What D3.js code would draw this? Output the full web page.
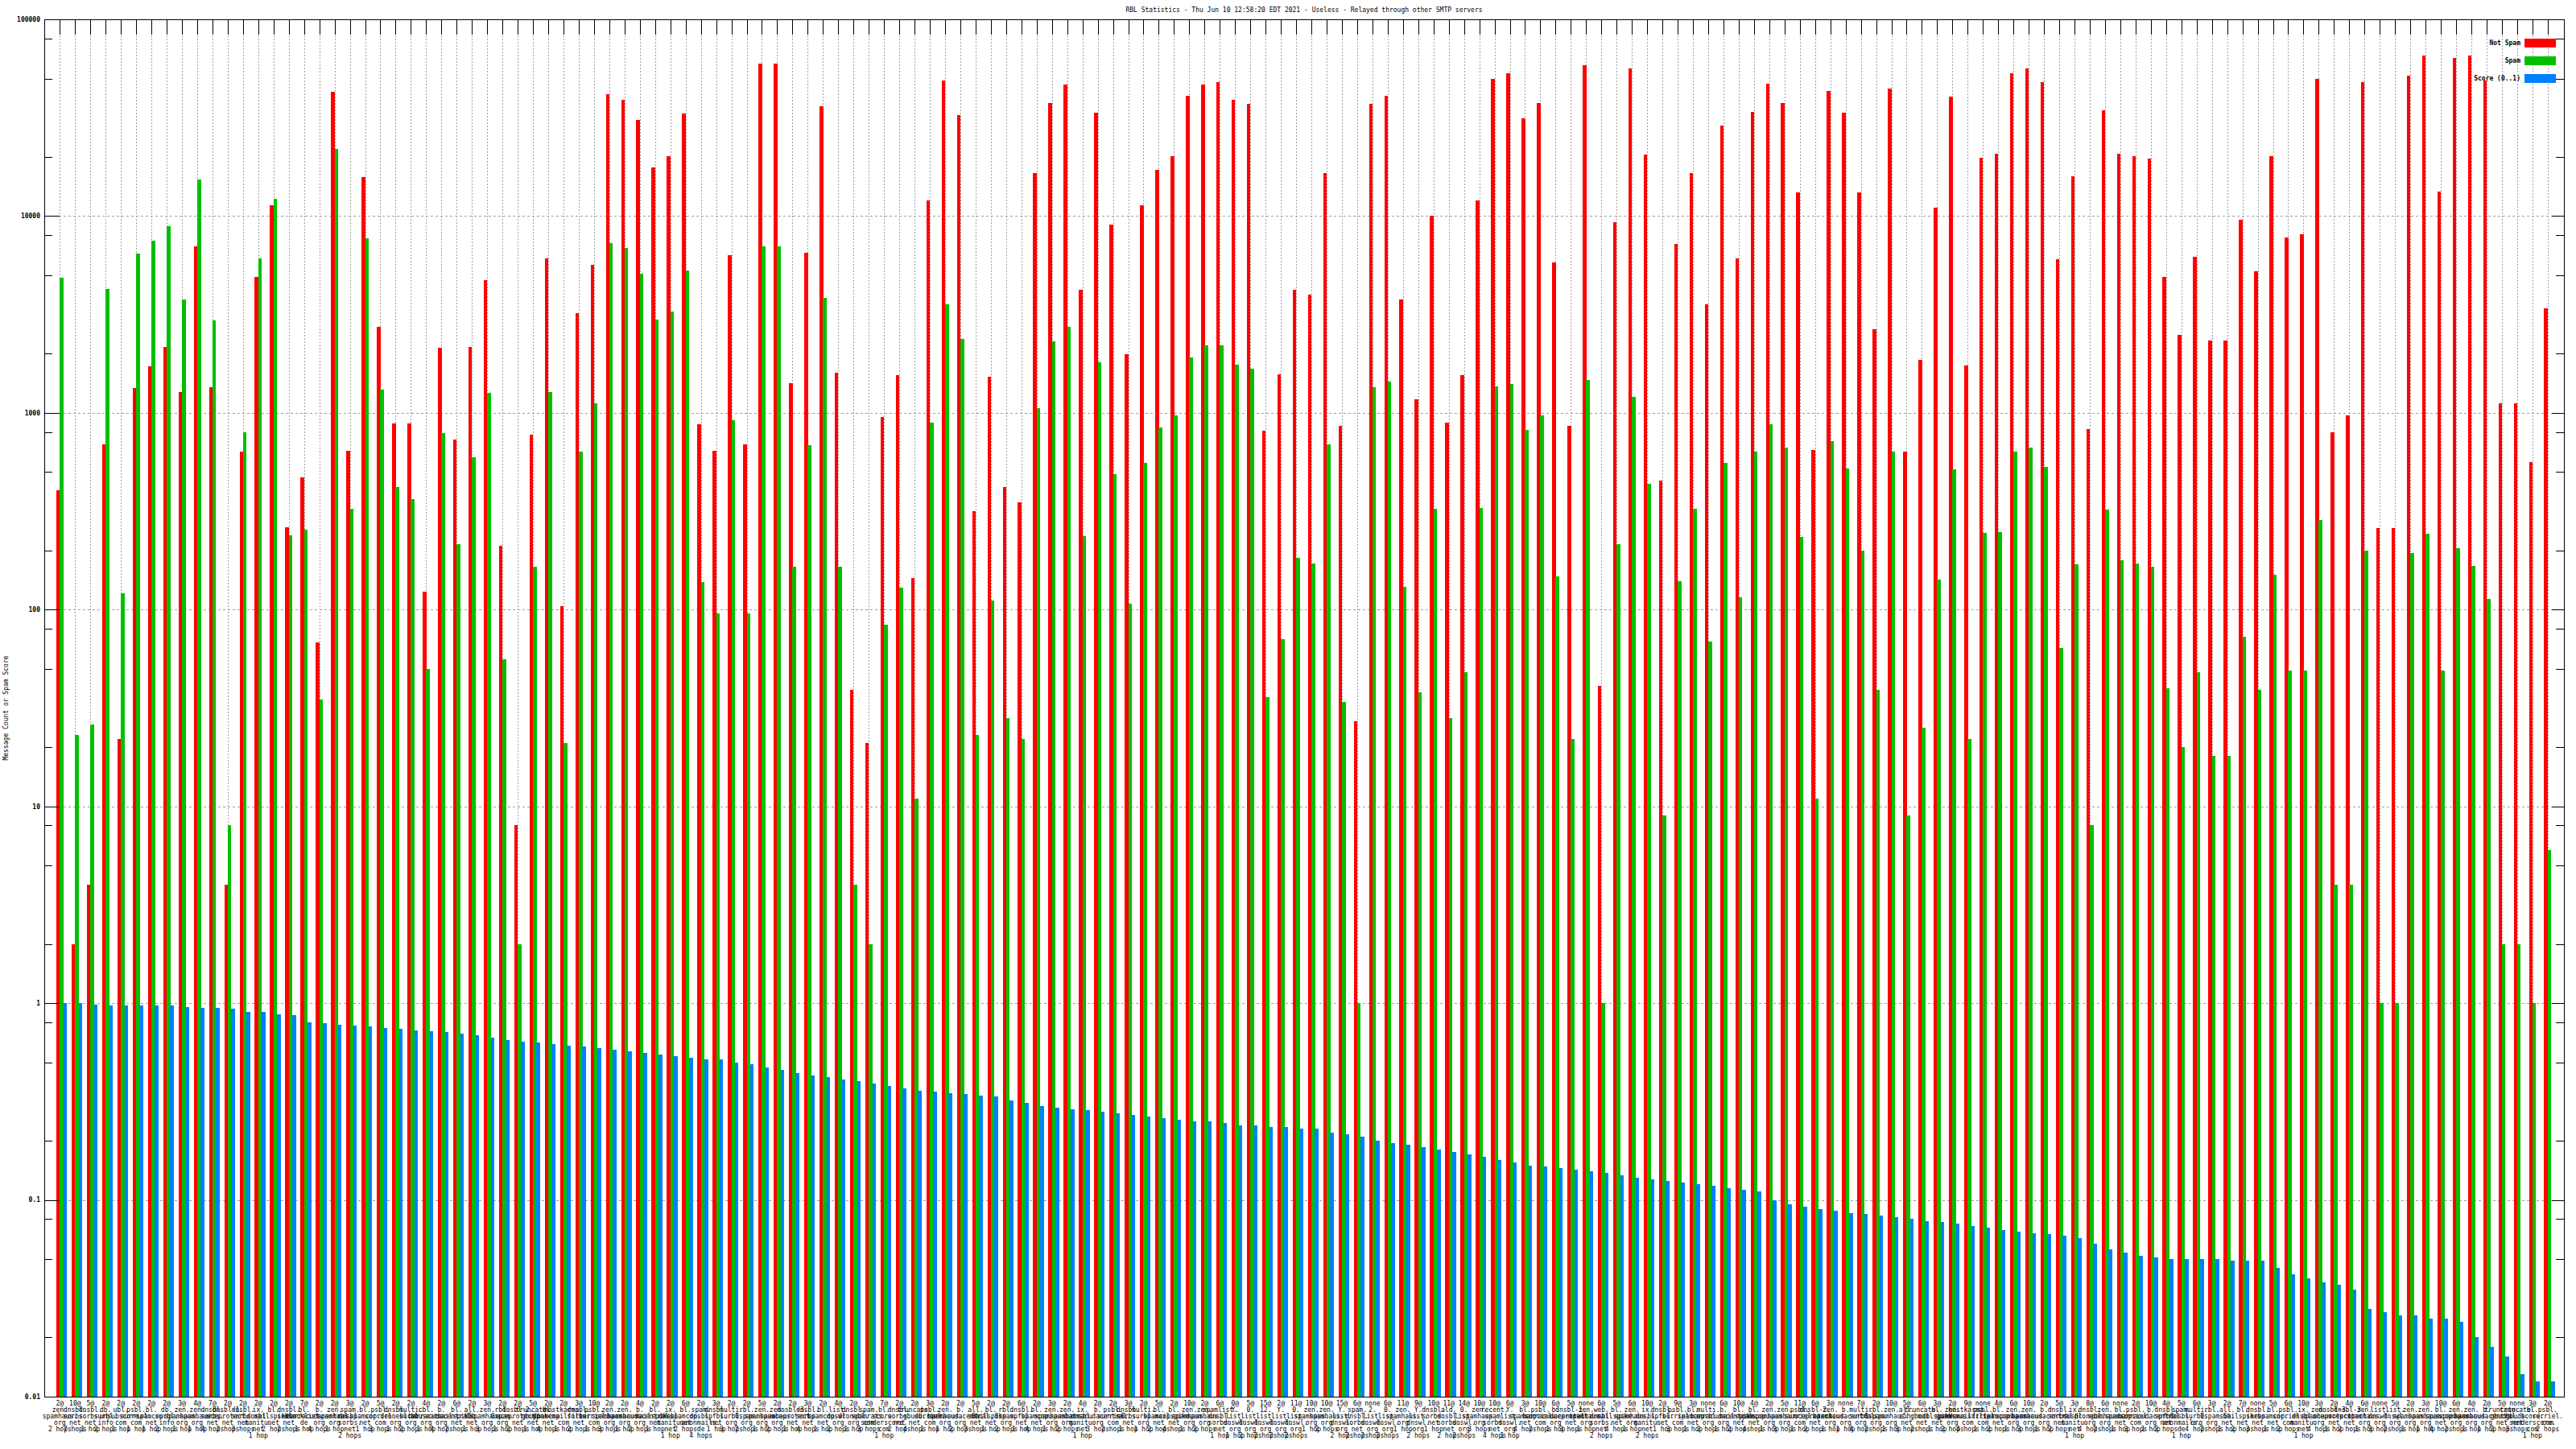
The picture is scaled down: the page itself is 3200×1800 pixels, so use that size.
<!DOCTYPE html>
<html><head><meta charset="utf-8">
<script src="https://cdn.jsdelivr.net/npm/d3@7"></script>
<style>body{margin:0;background:#fff} text{font-family:"DejaVu Sans Mono","Liberation Mono",monospace;}</style>
</head><body><svg id="c" width="3200" height="1800"></svg>
<script>
const notSpam = [403,2,4,689,22,1337,1722,2154,1279,6995,
1347,4,635,4928,11350,263,471,68,42760,644,
15750,2735,881,881,123,2138,731,2154,4713,212,
8,776,6114,104,3199,5678,41800,39090,30810,17620,
20150,33190,875,640,6300,694,59340,59340,1420,6490,
36300,1600,39,21,949,1553,145,12050,48880,32460,
317,1528,421,350,16600,37680,46430,4214,33440,9015,
1985,11350,17230,20150,40900,46430,48150,39090,37130,812,
1575,4214,4000,16600,861,27,37130,40900,3767,1169,
10070,888,1553,11960,50000,53090,31500,37400,5807,861,
58460,41,9352,56330,20460,454,7206,16600,3548,28810,
6114,33700,47100,37400,13180,649,43420,33440,13180,2654,
44380,635,1857,11020,40300,1749,19700,20770,53090,56330,
48150,6025,15880,824,34460,20770,20150,19550,4928,2483,
6209,2339,2339,9570,5230,20150,7762,8056,50000,794,
971,47850,260,260,51500,65400,13370,63490,65400,48880,
1118,1118,563,3396];
const spam = [4853,23,26,4245,121,6442,7480,8877,3767,15290,
2946,8,794,6073,12230,239,256,35,21870,324,
7703,1318,421,366,50,788,215,593,1260,56,
2,165,1279,21,635,1118,7310,6890,5110,2970,
3272,5270,138,96,915,96,7046,7046,165,684,
3826,165,4,2,84,129,11,894,3548,2373,
23,111,28,22,1054,2303,2735,237,1815,489,
107,559,843,971,1913,2204,2204,1762,1672,36,
71,183,172,689,34,1,1347,1442,130,38,
327,28,48,330,1357,1399,818,971,148,22,
1473,1,215,1205,437,9,140,327,69,559,
115,635,875,669,234,11,720,523,200,39,
635,9,25,142,515,22,245,248,635,664,
531,64,170,8,322,178,171,165,40,20,
48,18,18,73,39,151,49,49,286,4,
4,199,1,1,193,243,49,205,166,113,
2,2,1,6];
const score = [1.0,1.0,0.985,0.978,0.978,0.978,0.97,0.97,0.956,0.942,
0.942,0.935,0.90,0.90,0.88,0.87,0.80,0.79,0.78,0.77,
0.76,0.75,0.74,0.73,0.72,0.71,0.70,0.69,0.67,0.65,
0.64,0.63,0.62,0.61,0.60,0.59,0.58,0.57,0.56,0.55,
0.54,0.53,0.52,0.52,0.50,0.49,0.47,0.46,0.44,0.43,
0.42,0.41,0.40,0.39,0.38,0.37,0.36,0.355,0.35,0.345,
0.34,0.335,0.32,0.31,0.30,0.295,0.29,0.285,0.28,0.275,
0.27,0.265,0.26,0.255,0.25,0.25,0.245,0.24,0.24,0.235,
0.235,0.23,0.23,0.22,0.215,0.21,0.20,0.195,0.19,0.185,
0.18,0.175,0.17,0.165,0.16,0.155,0.15,0.148,0.145,0.142,
0.14,0.137,0.133,0.13,0.127,0.125,0.123,0.12,0.118,0.115,
0.113,0.11,0.10,0.095,0.092,0.09,0.088,0.086,0.085,0.083,
0.082,0.08,0.078,0.077,0.076,0.074,0.072,0.07,0.069,0.068,
0.067,0.066,0.064,0.06,0.056,0.054,0.052,0.051,0.05,0.05,
0.05,0.05,0.049,0.049,0.049,0.045,0.042,0.040,0.038,0.037,
0.035,0.028,0.027,0.026,0.026,0.025,0.025,0.024,0.020,0.018,
0.016,0.013,0.012,0.012];
const thresholds = ["2","10","5","2","2","2","2","2","3","4","7","2","2","2","2","2","7","2",
"2","3","2","5","2","2","4","2","6","2","3","2","2","5","2","2","3","10","2","2",
"4","2","2","6","2","3","2","2","5","2","2","3","2","4","2","2","7","2","2","3",
"2","2","5","2","2","6","2","3","2","4","2","2","3","2","5","2","10","2",
"6","0","5","15","2","11","10","10","15","6","none","6","11","9","10","11","14","10","10","6","3","10","6","5","none","6",
"5","6","10","2","9","3","none","6","10","4","2","5","11","6","3","none","7","2","10","5",
"6","3","2","9","none","4","6","10","2","5","3","8","6","none","2","10","4","5","6","3",
"2","7","none","5","6","10","3","2","4","6","none","5","2","3","10","6","4","2","5","none","3","2"];
const lists = ["zen.spamhaus.org","dnsbl.sorbs.net","dnsbl.sorbs.net","db.surbl.info","ubl.unsubscore.com","psbl.surriel.com","bl.spamcop.net","db.surbl.info","zen.spamhaus.org","zen.spamhaus.org",
"dnsbl.sorbs.net","dnsbl-1.uceprotect.net","dnsbl.sorbs.net","ix.dnsbl.manitu.net","bl.mailspike.net","dnsbl.sorbs.net","bl.blocklist.de","b.barracudacentral.org","zen.spamhaus.org","spam.dnsbl.sorbs.net",
"bl.spamcop.net","psbl.surriel.com","dnsbl.dronebl.org","multi.surbl.org","cbl.abuseat.org","b.barracudacentral.org","bl.mailspike.net","all.s5h.net","zen.spamhaus.org","rbl.0spam.org",
"dnsbl-2.uceprotect.net","truncate.gbudb.net","bl.spamcop.net","hostkarma.junkemailfilter.com","dnsbl.sorbs.net","psbl.surriel.com","zen.spamhaus.org","zen.spamhaus.org","b.barracudacentral.org","bl.mailspike.net",
"ix.dnsbl.manitu.net","bl.spamcop.net","spam.dnsbl.anonmails.de","dnsbl.spfbl.net","multi.surbl.org","rbl.0spam.org","zen.spamhaus.org","zen.spamhaus.org","dnsbl-3.uceprotect.net","dnsbl.sorbs.net",
"bl.spamcop.net","list.dnswl.org","dnsbl.dronebl.org","spam.spamrats.com","bl.score.senderscore.com","dnsbl.sorbs.net","truncate.gbudb.net","psbl.surriel.com","zen.spamhaus.org","b.barracudacentral.org",
"all.s5h.net","bl.mailspike.net","rbl.0spam.org","dnsbl.spfbl.net","bl.spamcop.net","zen.spamhaus.org","zen.spamhaus.org","ix.dnsbl.manitu.net","b.barracudacentral.org","psbl.surriel.com",
"dnsbl.sorbs.net","multi.surbl.org","bl.spamcop.net","bl.mailspike.net","zen.spamhaus.org","zen.spamhaus.org","spamlist.dnsbl.sorbs.net","Y.list.dnswl.org","0.list.dnswl.org","12.list.dnswl.org",
"Y.list.dnswl.org","0.list.dnswl.org","zen.spamhaus.org","zen.spamhaus.org","Y.list.dnswl.org","spam.dnsbl.sorbs.net","2.list.dnswl.org","0.list.dnswl.org","zen.spamhaus.org","Y.list.dnswl.org",
"dnsbl.sorbs.net","ald.dnsbl.sorbs.net","0.list.dnswl.org","zen.spamhaus.org","recent.spam.sorbs.net","Y.list.dnswl.org","bl.spamcop.net","psbl.surriel.com","b.barracudacentral.org","dnsbl-1.uceprotect.net",
"zen.spamhaus.org","web.dnsbl.sorbs.net","bl.mailspike.net","zen.spamhaus.org","ix.dnsbl.manitu.net","dnsbl.spfbl.net","psbl.surriel.com","bl.spamcop.net","multi.surbl.org","b.barracudacentral.org",
"bl.mailspike.net","bl.spamcop.net","zen.spamhaus.org","zen.spamhaus.org","psbl.surriel.com","dnsbl-2.uceprotect.net","zen.spamhaus.org","b.barracudacentral.org","multi.surbl.org","rbl.0spam.org",
"zen.spamhaus.org","all.s5h.net","truncate.gbudb.net","bl.mailspike.net","zen.spamhaus.org","hostkarma.junkemailfilter.com","psbl.surriel.com","bl.spamcop.net","zen.spamhaus.org","zen.spamhaus.org",
"b.barracudacentral.org","dnsbl.sorbs.net","ix.dnsbl.manitu.net","dnsbl.dronebl.org","zen.spamhaus.org","bl.spamcop.net","psbl.surriel.com","b.barracudacentral.org","dnsbl.spfbl.net","spam.dnsbl.anonmails.de",
"multi.surbl.org","rbl.0spam.org","all.s5h.net","bl.mailspike.net","dnsbl.sorbs.net","bl.spamcop.net","psbl.surriel.com","ix.dnsbl.manitu.net","zen.spamhaus.org","dnsbl-3.uceprotect.net",
"dnsbl-3.uceprotect.net","zen.spamhaus.org","list.dnswl.org","list.dnswl.org","zen.spamhaus.org","zen.spamhaus.org","bl.spamcop.net","zen.spamhaus.org","zen.spamhaus.org","b.barracudacentral.org",
"truncate.gbudb.net","truncate.gbudb.net","bl.score.senderscore.com","psbl.surriel.com"];
const hops = ["2 hops","7 hops","1 hop","2 hops","1 hop","1 hop","1 hop","2 hops","1 hop","1 hop",
"4 hops","2 hops","3 hops","1 hop","2 hops","2 hops","1 hop","4 hops","1 hop","2 hops",
"1 hop","3 hops","1 hop","2 hops","1 hop","4 hops","2 hops","1 hop","3 hops","1 hop",
"2 hops","1 hop","4 hops","1 hop","2 hops","1 hop","3 hops","1 hop","2 hops","1 hop",
"1 hop","2 hops","4 hops","1 hop","3 hops","2 hops","1 hop","2 hops","1 hop","4 hops",
"1 hop","2 hops","1 hop","3 hops","1 hop","2 hops","4 hops","1 hop","1 hop","2 hops",
"3 hops","1 hop","2 hops","1 hop","4 hops","1 hop","2 hops","1 hop","3 hops","2 hops",
"1 hop","1 hop","2 hops","4 hops","1 hop","2 hops","1 hop","1 hop","2 hops","2 hops",
"2 hops","2 hops","1 hop","2 hops","2 hops","2 hops","2 hops","2 hops","1 hop","2 hops",
"1 hop","2 hops","2 hops","3 hops","4 hops","1 hop","4 hops","2 hops","1 hop","3 hops",
"1 hop","2 hops","4 hops","1 hop","2 hops","1 hop","3 hops","1 hop","2 hops","1 hop",
"2 hops","4 hops","1 hop","3 hops","1 hop","2 hops","1 hop","1 hop","4 hops","2 hops",
"1 hop","3 hops","2 hops","1 hop","2 hops","4 hops","1 hop","2 hops","1 hop","3 hops",
"1 hop","2 hops","1 hop","4 hops","2 hops","1 hop","3 hops","1 hop","2 hops","1 hop",
"4 hops","2 hops","1 hop","2 hops","3 hops","1 hop","2 hops","1 hop","4 hops","1 hop",
"2 hops","1 hop","3 hops","2 hops","1 hop","1 hop","4 hops","2 hops","1 hop","1 hop",
"2 hops","3 hops","1 hop","2 hops"];
const yTickValues = [0.01,0.1,1,10,100,1000,10000,100000];
const yTickLabels = ["0.01","0.1","1","10","100","1000","10000","100000"];
const seriesNames = ["Not Spam","Spam","Score (0..1)"];
const seriesColors = ["#ff0000","#00c000","#0080ff"];
const titleText = "RBL Statistics - Thu Jun 10 12:58:20 EDT 2021 - Useless - Relayed through other SMTP servers";
const yTitle = "Message Count or Spam Score";

const W = 3200, H = 1800, L = 55, R = 3185, T = 24, B = 1735;
const svg = d3.select("#c");
svg.append("rect").attr("width", W).attr("height", H).attr("fill", "#fff");
const n = notSpam.length;
const x = d3.scaleBand().domain(d3.range(n)).range([70, 70 + n * 18.96]).padding(0);
const xs = d3.scaleBand().domain([0, 1, 2]).range([0, 13]);
const y = d3.scaleLog().domain([0.01, 100000]).range([B, T]);
const tickX = i => x(i) + xs.bandwidth();

// gridlines
const g = svg.append("g").attr("shape-rendering", "crispEdges");
g.selectAll("line.vg").data(d3.range(n)).join("line")
  .attr("x1", i => Math.round(tickX(i)) + 0.5).attr("x2", i => Math.round(tickX(i)) + 0.5)
  .attr("y1", T).attr("y2", B).attr("stroke", "#a0a0a0").attr("stroke-width", 1).attr("stroke-dasharray", "2,2");
g.selectAll("line.hg").data(yTickValues.slice(1, -1)).join("line")
  .attr("x1", L).attr("x2", R).attr("y1", d => Math.round(y(d)) + 0.5).attr("y2", d => Math.round(y(d)) + 0.5)
  .attr("stroke", "#a0a0a0").attr("stroke-width", 1).attr("stroke-dasharray", "3,3");

// bars
const series = [notSpam, spam, score];
const bars = svg.append("g").attr("shape-rendering", "crispEdges");
series.forEach((arr, k) => {
  bars.selectAll("rect.s" + k).data(arr).join("rect")
    .attr("x", (d, i) => x(i) + xs(k)).attr("width", xs.bandwidth() + 0.2)
    .attr("y", d => y(d)).attr("height", d => B - y(d))
    .attr("fill", seriesColors[k]);
});

// frame & ticks
const ax = svg.append("g").attr("shape-rendering", "crispEdges").attr("stroke", "#000").attr("stroke-width", 1);
ax.append("rect").attr("x", L + 0.5).attr("y", T + 0.5).attr("width", R - L).attr("height", B - T).attr("fill", "none");
ax.selectAll("line.tt").data(d3.range(n)).join("line")
  .attr("x1", i => Math.round(tickX(i)) + 0.5).attr("x2", i => Math.round(tickX(i)) + 0.5)
  .attr("y1", T).attr("y2", T + 19);
const minor = [];
for (let e = -2; e < 5; e++) [2, 5, 8].forEach(m => minor.push(m * Math.pow(10, e)));
ax.selectAll("line.mj").data(yTickValues).join("line")
  .attr("x1", L).attr("x2", L + 19).attr("y1", d => Math.round(y(d)) + 0.5).attr("y2", d => Math.round(y(d)) + 0.5);
ax.selectAll("line.mjr").data(yTickValues).join("line")
  .attr("x1", R - 15).attr("x2", R).attr("y1", d => Math.round(y(d)) + 0.5).attr("y2", d => Math.round(y(d)) + 0.5);
ax.selectAll("line.mn").data(minor).join("line")
  .attr("x1", L).attr("x2", L + 10).attr("y1", d => Math.round(y(d)) + 0.5).attr("y2", d => Math.round(y(d)) + 0.5);
ax.selectAll("line.mnr").data(minor).join("line")
  .attr("x1", R - 10).attr("x2", R).attr("y1", d => Math.round(y(d)) + 0.5).attr("y2", d => Math.round(y(d)) + 0.5);

// y tick labels
svg.append("g").selectAll("text").data(yTickValues).join("text")
  .attr("x", 50).attr("y", d => y(d)).attr("dy", "0.35em").attr("text-anchor", "end")
  .attr("font-size", 8).attr("font-weight", "bold").text((d, i) => yTickLabels[i]);

// title
svg.append("text").attr("x", (L + R) / 2).attr("y", 12).attr("dy", "0.35em").attr("text-anchor", "middle")
  .attr("font-size", 8).text(titleText);
// y title
svg.append("text").attr("transform", `translate(7,${(T + B) / 2}) rotate(-90)`).attr("dy", "0.35em")
  .attr("text-anchor", "middle").attr("font-size", 8).text(yTitle);

// x labels (overlapping in the original as well)
const lab = svg.append("g").attr("font-size", 8).attr("text-anchor", "middle");
d3.range(n).forEach(i => {
  const parts = [thresholds[i] === "none" ? "none" : thresholds[i] + "@"];
  const segs = lists[i].split(".");
  segs.forEach((s, j) => parts.push(j < segs.length - 1 ? s + "." : s));
  parts.push(hops[i]);
  const t = lab.append("text").attr("x", tickX(i)).attr("y", 1746);
  parts.forEach((p, j) => t.append("tspan").attr("x", tickX(i)).attr("y", 1746 + j * 8).text(p));
});

// legend
const leg = svg.append("g");
seriesNames.forEach((s, k) => {
  leg.append("rect").attr("x", 3136).attr("y", 48 + k * 22).attr("width", 39).attr("height", 11).attr("fill", seriesColors[k]);
  leg.append("text").attr("x", 3131).attr("y", 53.5 + k * 22).attr("dy", "0.35em").attr("text-anchor", "end")
    .attr("font-size", 8).attr("font-weight", "bold").text(s);
});
</script></body></html>
